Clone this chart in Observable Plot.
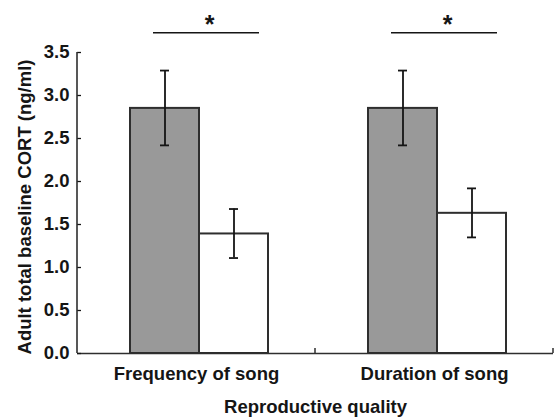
<!DOCTYPE html>
<html><head><meta charset="utf-8">
<script src="https://cdn.jsdelivr.net/npm/d3@7"></script>
<script src="https://cdn.jsdelivr.net/npm/@observablehq/plot@0.6"></script>
<style>
html,body{margin:0;padding:0;background:#fff;}
#chart svg{font-family:"Liberation Sans",Arial,Helvetica,sans-serif;font-weight:bold;}
</style></head><body><div id="chart"></div>
<script>
// ---- data ----
const groups = ["Frequency of song", "Duration of song"];
const treatments = ["filled", "open"];
const means    = [[2.85, 1.39], [2.85, 1.63]];
const errUpper = [[3.29, 1.68], [3.29, 1.92]];
const errLower = [[2.42, 1.11], [2.42, 1.35]];
const yTicks = [0, 0.5, 1.0, 1.5, 2.0, 2.5, 3.0, 3.5];
const sigLevel = [3.73, 3.73];
const sigMark = ["*", "*"];
const xLabel = "Reproductive quality";
const yLabel = "Adult total baseline CORT (ng/ml)";

const rows = [];
groups.forEach((g, i) => treatments.forEach((t, j) => rows.push({
  group: g, treatment: t, mean: means[i][j], hi: errUpper[i][j], lo: errLower[i][j]
})));
const sig = groups.map((g, i) => ({group: g, level: sigLevel[i], mark: sigMark[i]}));

const ink = "#151515";
const edge = "#2e2e2e";
const plot = Plot.plot({
  width: 555, height: 418,
  marginLeft: 76, marginRight: 2, marginTop: 52, marginBottom: 65,
  style: {fontFamily: '"Liberation Sans", Arial, Helvetica, sans-serif', fontSize: "18.5px", fontWeight: "bold", color: ink, background: "#fff", overflow: "visible"},
  fx: {domain: groups, padding: 0},
  x: {domain: treatments, paddingInner: 0, paddingOuter: 0.716, align: 0.53, axis: null},
  y: {domain: [0, 3.5], axis: null},
  color: {domain: treatments, range: ["#999999", "#ffffff"]},
  marks: [
    Plot.barY(rows, {fx: "group", x: "treatment", y: "mean", fill: "treatment", stroke: edge, strokeWidth: 2}),
    Plot.ruleX(rows, {fx: "group", x: "treatment", y1: "lo", y2: "hi", stroke: ink, strokeWidth: 1.8}),
    Plot.tickY(rows, {fx: "group", x: "treatment", y: "hi", stroke: ink, strokeWidth: 1.8, insetLeft: 30, insetRight: 30}),
    Plot.tickY(rows, {fx: "group", x: "treatment", y: "lo", stroke: ink, strokeWidth: 1.8, insetLeft: 30, insetRight: 30}),
    Plot.ruleY([0], {stroke: edge, strokeWidth: 1.6}),
    Plot.ruleY(sig, {fx: "group", y: "level", stroke: ink, strokeWidth: 1.5, insetLeft: 76, insetRight: 56}),
    Plot.text(sig, {fx: "group", y: "level", text: "mark", dx: 13, dy: 0, lineAnchor: "bottom", fontSize: 25, fontWeight: "bold", fill: ink}),
    Plot.axisY({ticks: yTicks, tickFormat: d3.format(".1f"), tickSize: -4, tickPadding: 12, stroke: ink, strokeWidth: 1.3, label: null}),
    Plot.text([yLabel], {fx: () => groups[0], frameAnchor: "left", rotate: -90, text: d => d, textAnchor: "middle", lineAnchor: "bottom", dx: -47, dy: 4, fontSize: 18.5, fontWeight: "bold", fill: ink}),
    Plot.axisFx({anchor: "bottom", tickSize: 0, tickPadding: 13, label: xLabel, labelAnchor: "center", labelOffset: 59})
  ]
});

// axis line for y and separator ticks on x, placed with Plot's own scales
const fxs = plot.scale("fx"), ys = plot.scale("y");
const svg = d3.select(plot);
const x0 = fxs.apply(groups[0]);
const yb = ys.apply(0), yt = ys.apply(d3.max(yTicks));
svg.append("line").attr("x1", x0).attr("x2", x0).attr("y1", yt).attr("y2", yb)
  .attr("stroke", edge).attr("stroke-width", 1.6);
groups.forEach(g => {
  const xe = fxs.apply(g) + fxs.bandwidth;
  svg.append("line").attr("x1", xe).attr("x2", xe).attr("y1", yb).attr("y2", yb - 5)
    .attr("stroke", edge).attr("stroke-width", 1.5);
});
document.getElementById("chart").appendChild(plot);
</script></body></html>
